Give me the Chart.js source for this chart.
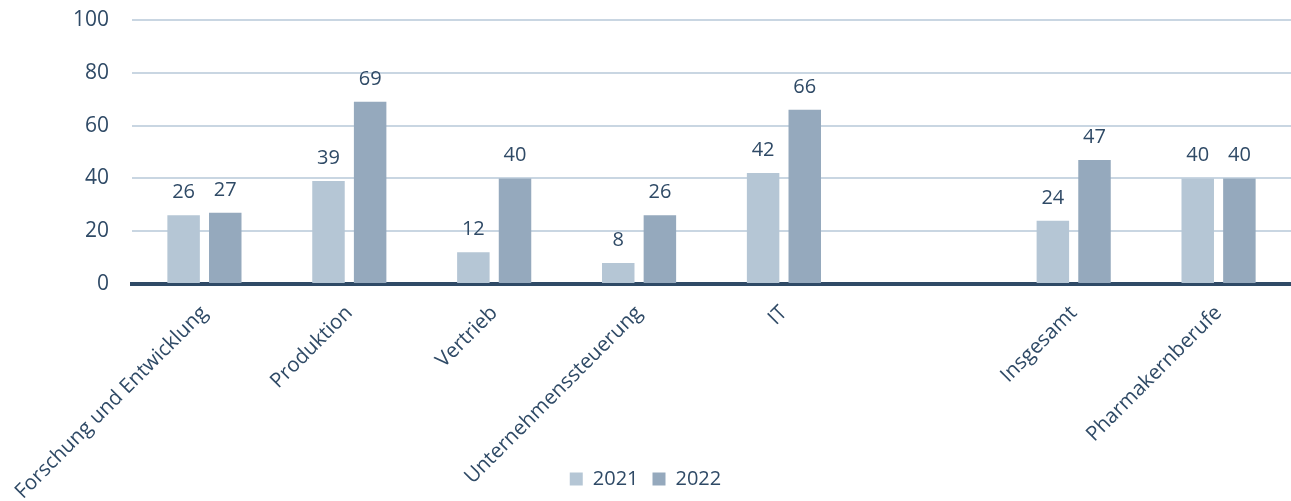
<!DOCTYPE html>
<html>
<head>
<meta charset="utf-8">
<script src="https://cdn.jsdelivr.net/npm/chart.js@4.4.1/dist/chart.umd.min.js"></script>
<style>
  html, body { margin:0; padding:0; background:#fff; }
  #wrap { width:1291px; height:501px; position:relative; }
</style>
</head>
<body>
<div id="wrap"><canvas id="chart"></canvas></div>
<script>
const categories = ['Forschung und Entwicklung', 'Produktion', 'Vertrieb', 'Unternehmenssteuerung', 'IT', '', 'Insgesamt', 'Pharmakernberufe'];
const werte2021  = [26, 39, 12, 8, 42, null, 24, 40];
const werte2022  = [27, 69, 40, 26, 66, null, 47, 40];
const yTicks     = [0, 20, 40, 60, 80, 100];

const TEXT  = '#2f4a66';
const FONT  = 'Open Sans';
const PLOT_TOP = 20;
const PLOT_BOTTOM = 284;

// waarden boven de staven
const valueLabels = {
  id: 'valueLabels',
  afterDatasetsDraw(chart) {
    const ctx = chart.ctx;
    ctx.save();
    ctx.font = '20px "' + FONT + '"';
    ctx.fillStyle = TEXT;
    ctx.textAlign = 'center';
    ctx.textBaseline = 'alphabetic';
    chart.data.datasets.forEach((ds, i) => {
      chart.getDatasetMeta(i).data.forEach((el, j) => {
        const v = ds.data[j];
        if (v === null || v === undefined) return;
        ctx.fillText(String(v), el.x, el.y - 17);
      });
    });
    ctx.restore();
  }
};

// schuine labels mogen tot onderaan doorlopen (niet afknippen boven de legenda)
const unclipX = {
  id: 'unclipX',
  afterLayout(chart) { chart.scales.x.bottom = chart.height; }
};

new Chart(document.getElementById('chart'), {
  type: 'bar',
  data: {
    labels: categories,
    datasets: [
      { label: '2021', data: werte2021, backgroundColor: '#b5c6d5', categoryPercentage: 0.575, barPercentage: 0.78 },
      { label: '2022', data: werte2022, backgroundColor: '#95a9bd', categoryPercentage: 0.575, barPercentage: 0.78 }
    ]
  },
  options: {
    responsive: true, maintainAspectRatio: false, animation: false,
    layout: { padding: { top: 0, right: 0, left: 0, bottom: 2 } },
    plugins: {
      legend: {
        position: 'bottom',
        labels: { color: TEXT, font: { family: FONT, size: 20 }, boxWidth: 13, boxHeight: 13, padding: 14 }
      },
      tooltip: { enabled: false }
    },
    scales: {
      x: {
        grid: { display: false },
        border: { display: true, color: '#2f4a66', width: 4 },
        ticks: { color: TEXT, font: { family: FONT, size: 20.5 }, minRotation: 45, maxRotation: 45, autoSkip: false, padding: 9 },
        afterFit: s => { s.height = s.chart.height - PLOT_BOTTOM - (s.chart.legend ? s.chart.legend.height : 36) - 2; }
      },
      y: {
        min: 0, max: 100,
        afterBuildTicks: s => { s.ticks = yTicks.map(v => ({ value: v })); },
        grid: { color: '#c9d6e2', lineWidth: 2, drawTicks: false },
        border: { display: false },
        ticks: { color: TEXT, font: { family: FONT, size: 21 }, padding: 23 },
        afterFit: s => { s.width = 132; s.paddingTop = PLOT_TOP; s.paddingBottom = 0; }
      }
    }
  },
  plugins: [valueLabels, unclipX]
});
</script>
</body>
</html>
